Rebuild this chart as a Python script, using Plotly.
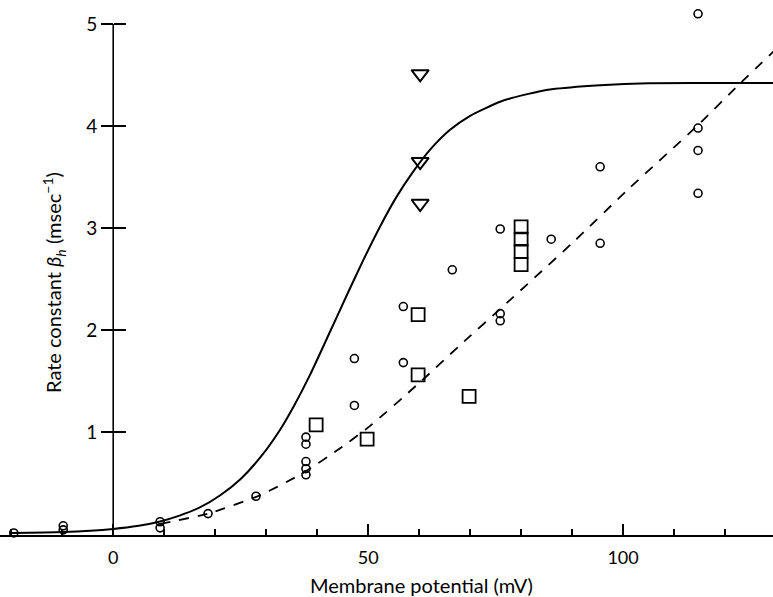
import plotly.graph_objects as go

# ---- data ----
circle_mv = [-19.5, -9.8, -9.8, 9.2, 9.2, 18.6, 28.0, 37.8, 37.8, 37.8, 37.8, 37.8,
             47.3, 47.3, 56.9, 56.9, 66.5, 75.9, 75.9, 75.9, 85.9, 95.5, 95.5,
             114.7, 114.7, 114.7, 114.7]
circle_beta = [0.01, 0.08, 0.04, 0.12, 0.06, 0.20, 0.37, 0.95, 0.88, 0.71, 0.64, 0.58,
               1.72, 1.26, 2.23, 1.68, 2.59, 2.99, 2.16, 2.09, 2.89, 3.60, 2.85,
               5.10, 3.98, 3.76, 3.34]

square_mv = [39.8, 49.8, 59.8, 59.8, 69.8, 80.0, 80.0, 80.0, 80.0]
square_beta = [1.07, 0.93, 2.15, 1.56, 1.35, 3.01, 2.89, 2.77, 2.64]

triangle_mv = [60.2, 60.2, 60.2]
triangle_beta = [4.51, 3.65, 3.24]

solid_mv = [-20, -10, 0, 5, 9, 13, 17, 21, 25, 29, 32.7, 35.5, 38.6, 42.5, 45.9,
            49, 52.4, 55.5, 58.8, 62.2, 66, 70, 76, 81, 86, 95.5, 105, 132]
solid_beta = [0.01, 0.02, 0.05, 0.08, 0.12, 0.18, 0.26, 0.38, 0.54, 0.76, 1.02,
              1.26, 1.56, 1.98, 2.35, 2.68, 3.02, 3.30, 3.55, 3.77, 3.96, 4.10,
              4.24, 4.31, 4.36, 4.40, 4.42, 4.42]

dashed_mv = [9.2, 18.6, 28.8, 37.3, 44.5, 50.4, 60, 68, 77.3, 90.2, 100.8, 114.5, 123, 131]
dashed_beta = [0.10, 0.20, 0.38, 0.60, 0.84, 1.06, 1.48, 1.85, 2.27, 2.86, 3.37,
               4.00, 4.42, 4.80]

x_tick_vals = [0, 50, 100]
x_tick_text = ["0", "50", "100"]
y_tick_vals = [1, 2, 3, 4, 5]
y_tick_text = ["1", "2", "3", "4", "5"]

X_RANGE = [-22.2, 129.4]
Y_RANGE = [-0.01, 5.147]
Y_AXIS_TOP = 5.0
FONT = "Lato"
INK = "black"

TOP, BOTTOM = 9, 62
PLOT_H = 597 - TOP - BOTTOM
AXIS_PX = 597 - BOTTOM

fig = go.Figure()

fig.add_trace(go.Scatter(x=solid_mv, y=solid_beta, mode="lines",
                         line=dict(color=INK, width=2, shape="spline", smoothing=0.6),
                         cliponaxis=False, hoverinfo="skip"))
fig.add_trace(go.Scatter(x=dashed_mv, y=dashed_beta, mode="lines",
                         line=dict(color=INK, width=1.8, dash="10px,9px",
                                   shape="spline", smoothing=0.6),
                         hoverinfo="skip"))
fig.add_trace(go.Scatter(x=circle_mv, y=circle_beta, mode="markers",
                         marker=dict(symbol="circle-open", size=8, color=INK,
                                     line=dict(width=1.6, color=INK)),
                         cliponaxis=False))
fig.add_trace(go.Scatter(x=square_mv, y=square_beta, mode="markers",
                         marker=dict(symbol="square-open", size=13, color=INK,
                                     line=dict(width=1.8, color=INK)),
                         cliponaxis=False))
fig.add_trace(go.Scatter(x=triangle_mv, y=triangle_beta, mode="markers",
                         marker=dict(symbol="triangle-down-open", size=15, color=INK,
                                     line=dict(width=2, color=INK)),
                         cliponaxis=False))

ypos = (0 - X_RANGE[0]) / (X_RANGE[1] - X_RANGE[0])

fig.update_layout(
    width=773, height=597,
    margin=dict(l=0, r=0, t=TOP, b=BOTTOM),
    paper_bgcolor="white", plot_bgcolor="white",
    showlegend=False,
    font=dict(family=FONT, color=INK, size=18),
    xaxis=dict(range=X_RANGE, showgrid=False, zeroline=False,
               showline=True, linecolor=INK, linewidth=1.6,
               tickmode="array", tickvals=x_tick_vals, ticktext=x_tick_text,
               ticks="inside", ticklen=11, tickwidth=1.6, tickcolor=INK,
               ticklabelstandoff=6,
               tickfont=dict(family=FONT, size=18, color=INK),
               minor=dict(dtick=10, tick0=0, ticks="inside", ticklen=6,
                          tickwidth=1.5, tickcolor=INK, showgrid=False)),
    yaxis=dict(range=Y_RANGE, showgrid=False, zeroline=False,
               anchor="free", position=ypos, side="left",
               showline=False,
               tickmode="array", tickvals=y_tick_vals, ticktext=y_tick_text,
               ticks="outside", ticklen=12, tickwidth=1.6, tickcolor=INK,
               tickfont=dict(family=FONT, size=19, color=INK)),
    yaxis2=dict(range=Y_RANGE, overlaying="y", anchor="free", position=ypos,
                side="left", showgrid=False, zeroline=False, showline=False,
                tickmode="array", tickvals=y_tick_vals,
                ticks="inside", ticklen=12, tickwidth=1.6, tickcolor=INK,
                showticklabels=False),
)

# vertical axis line at 0 mV, ending at the top tick (as in the original)
fig.add_shape(type="line", xref="x", yref="y", x0=0, x1=0,
              y0=Y_RANGE[0], y1=Y_AXIS_TOP, line=dict(color=INK, width=1.6),
              layer="above")

fig.add_annotation(text="Membrane potential (mV)", xref="paper", yref="paper",
                   x=421 / 773, y=-(585 - AXIS_PX) / PLOT_H, showarrow=False,
                   xanchor="center", yanchor="middle",
                   font=dict(family=FONT, size=20, color=INK))
fig.add_annotation(text="Rate constant <i>β<sub>h</sub></i> (msec<sup>−1</sup>)",
                   xref="paper", yref="paper",
                   x=54 / 773, y=(AXIS_PX - 283) / PLOT_H, showarrow=False,
                   textangle=-90, xanchor="center", yanchor="middle",
                   font=dict(family=FONT, size=20, color=INK))

fig.add_trace(go.Scatter(x=[None], y=[None], yaxis="y2", showlegend=False,
                         hoverinfo="skip"))

fig.write_html("out.html",
               config={"displayModeBar": False},
               post_script="document.body.style.margin='0';"
                           "document.body.style.overflow='hidden';")
